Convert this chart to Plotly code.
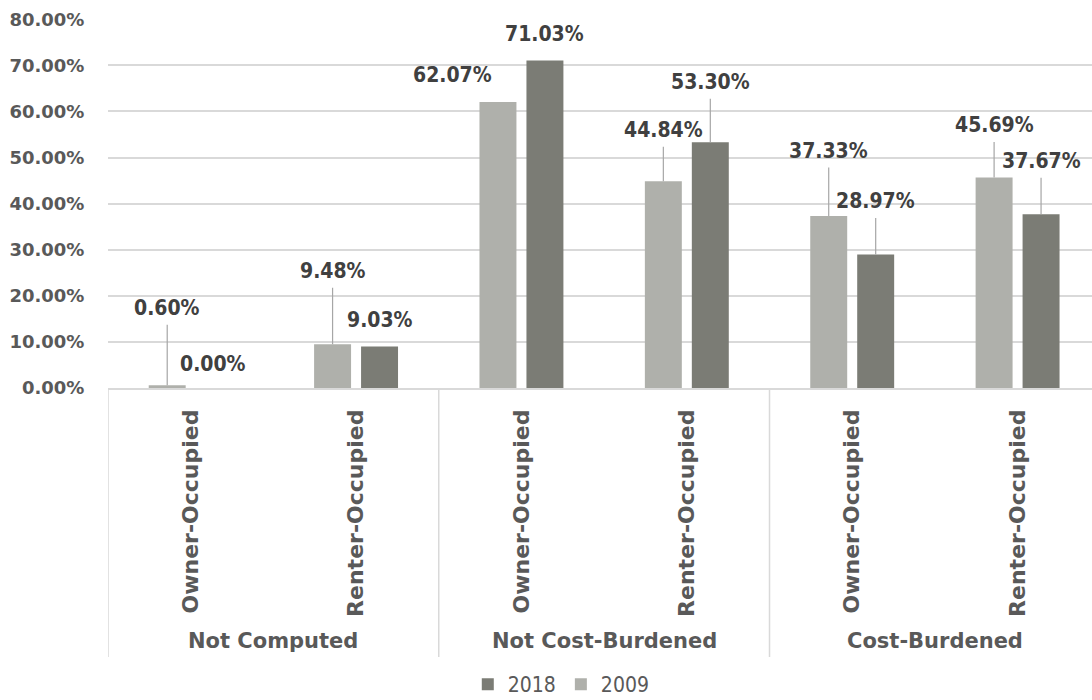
import plotly.graph_objects as go

# ---------------- data ----------------
groups = ["Not Computed", "Not Cost-Burdened", "Cost-Burdened"]
tenure = ["Owner-Occupied", "Renter-Occupied"]
sub_labels = [t for g in groups for t in tenure]
values_2009 = [0.0060, 0.0948, 0.6207, 0.4484, 0.3733, 0.4569]
values_2018 = [0.0000, 0.0903, 0.7103, 0.5330, 0.2897, 0.3767]
y_tick_vals = [0.0, 0.1, 0.2, 0.3, 0.4, 0.5, 0.6, 0.7, 0.8]

# ---------------- label layout (pixel offsets from bar tops) ----------------
dy_2009 = [-77, -73, -27, -51, -65, -52]
dx_2009 = [0, 0, -45, 0, 0, 0]
leader_2009 = [True, True, False, True, True, True]
dy_2018 = [-24, -26, -27, -60, -53, -53]
dx_2018 = [-1, 0, 0, 0, 0, 0]
leader_2018 = [False, False, False, True, True, True]

LIGHT = "#AFB0AB"
DARK = "#7B7C75"
GRID = "#D9D9D9"
AXIS_TXT = "#595959"
LBL_TXT = "#404040"
LEADER = "#A6A6A6"

BARGAP = 0.432
BARGROUPGAP = 0.213

xs = list(range(len(sub_labels)))

fig = go.Figure()
fig.add_trace(go.Bar(x=xs, y=values_2009, name="2009", marker_color=LIGHT,
                     marker_line_width=0, hoverinfo="skip"))
fig.add_trace(go.Bar(x=xs, y=values_2018, name="2018", marker_color=DARK,
                     marker_line_width=0, hoverinfo="skip"))

off = (1 - BARGAP) / 4.0
lbl_font = dict(family="DejaVu Sans Condensed", size=21, color=LBL_TXT, weight="bold")

annotations = []
for series, sign, dys, dxs, leaders in [
    (values_2009, -1, dy_2009, dx_2009, leader_2009),
    (values_2018, 1, dy_2018, dx_2018, leader_2018),
]:
    for i, v in enumerate(series):
        txt = f"{v*100:.2f}%"
        xpos = xs[i] + sign * off
        if leaders[i]:
            annotations.append(dict(
                x=xpos, y=v, xref="x", yref="y", text=txt, showarrow=True,
                ax=dxs[i], ay=dys[i], arrowhead=0, arrowwidth=1.2,
                arrowcolor=LEADER, standoff=0, borderpad=4, font=lbl_font))
        else:
            annotations.append(dict(
                x=xpos, y=v, xref="x", yref="y", text=txt, showarrow=False,
                xshift=dxs[i], yshift=-dys[i], xanchor="center", yanchor="middle",
                font=lbl_font))

grp_font = dict(family="DejaVu Sans", size=21, color=AXIS_TXT, weight="bold")
for gi, g in enumerate(groups):
    annotations.append(dict(
        x=gi * len(tenure) + (len(tenure) - 1) / 2.0, y=0, xref="x", yref="paper",
        yshift=-253, text=g, showarrow=False, xanchor="center", yanchor="middle",
        font=grp_font))

shapes = []
for gi in range(len(groups)):
    xd = gi * len(tenure) - 0.5
    shapes.append(dict(type="line", xref="x", yref="paper", x0=xd, x1=xd,
                       y0=0, y1=-0.729, line=dict(color=GRID, width=1.5)))

fig.update_layout(
    width=1092, height=700,
    margin=dict(l=108, r=0, t=19, b=312, autoexpand=False),
    paper_bgcolor="white", plot_bgcolor="white",
    barmode="group", bargap=BARGAP, bargroupgap=BARGROUPGAP,
    annotations=annotations, shapes=shapes,
    showlegend=True,
    legend=dict(orientation="h", traceorder="reversed",
                xref="container", yref="container",
                x=0.514, xanchor="center", y=0.022, yanchor="middle",
                font=dict(family="DejaVu Sans Condensed", size=21, color=AXIS_TXT),
                bgcolor="rgba(0,0,0,0)"),
    xaxis=dict(range=[-0.5, 5.45], tickmode="array", tickvals=xs, ticktext=sub_labels,
               tickangle=-90, ticks="outside", ticklen=11, tickcolor="rgba(0,0,0,0)",
               tickfont=dict(family="DejaVu Sans", size=22, color=AXIS_TXT, weight="bold"),
               showgrid=False, showline=True, linecolor=GRID, linewidth=1.5,
               zeroline=False, fixedrange=True, automargin=False),
    yaxis=dict(range=[0, 0.8005], tickmode="array", tickvals=y_tick_vals,
               ticktext=[f"{t*100:.2f}%" for t in y_tick_vals],
               ticks="outside", ticklen=19, tickcolor="rgba(0,0,0,0)",
               tickfont=dict(family="DejaVu Sans", size=18, color=AXIS_TXT, weight="bold"),
               showgrid=True, gridcolor=GRID, gridwidth=1.5,
               zeroline=False, showline=False, fixedrange=True, automargin=False),
)

fig.write_html("out.html", config={"displayModeBar": False})
